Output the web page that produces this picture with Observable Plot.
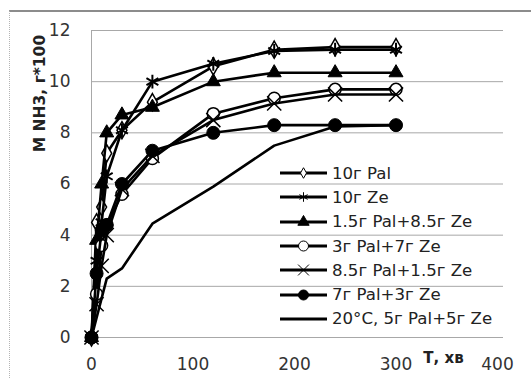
<!DOCTYPE html>
<html>
<head>
<meta charset="utf-8">
<script src="https://cdn.jsdelivr.net/npm/d3@7"></script>
<script src="https://cdn.jsdelivr.net/npm/@observablehq/plot@0.6"></script>
<style>
  body { margin: 0; background: #fff; }
  #wrap { position: relative; width: 531px; height: 378px; overflow: hidden; background: #fff; font-family: "DejaVu Sans", sans-serif; }
  #frame { position: absolute; left: 9px; top: 10px; width: 700px; height: 500px; border-top: 2px solid #8c8c8c; border-left: 1px dotted #b4b4b4; }
  #chart { position: absolute; left: 0; top: 0; }
  #legend { position: absolute; left: 278px; top: 161px; }
  .row { display: flex; align-items: center; height: 24.3px; }
  .row span { margin-left: 4px; font-size: 16.6px; color: #222; white-space: nowrap; }
</style>
</head>
<body>
<div id="wrap">
  <div id="frame"></div>
  <div id="chart"></div>
  <div id="legend"></div>
</div>
<script>
// ---- data ----
const seriesNames = ["10г Pal", "10г Ze", "1.5г Pal+8.5г Ze", "3г Pal+7г Ze", "8.5г Pal+1.5г Ze", "7г Pal+3г Ze", "20°C, 5г Pal+5г Ze"];
const times = [0, 5, 10, 15, 30, 60, 120, 180, 240, 300];
const pal10     = [0, 4.5, 5.1, 7.2, 8.1, 9.2, 10.6, 11.25, 11.35, 11.35];
const ze10      = [0, 3.0, 4.5, 6.3, 8.1, 10.0, 10.7, 11.2, 11.25, 11.25];
const pal15ze85 = [0, 3.8, 6.0, 8.0, 8.7, 9.0, 10.0, 10.35, 10.35, 10.35];
const pal3ze7   = [0, 1.7, 3.6, 4.4, 5.6, 7.0, 8.75, 9.35, 9.7, 9.7];
const pal85ze15 = [0, 1.3, 2.8, 4.0, 5.8, 7.1, 8.5, 9.15, 9.5, 9.5];
const pal7ze3   = [0, 2.5, 4.2, 4.4, 6.0, 7.3, 8.0, 8.3, 8.3, 8.3];
const times20   = [0, 15, 30, 60, 120, 180, 240, 300];
const room20    = [0, 2.3, 2.7, 4.45, 5.9, 7.5, 8.25, 8.3];
const xTicks = [0, 100, 200, 300, 400];
const yTicks = [0, 2, 4, 6, 8, 10, 12];
const xLabel = "Т, хв";
const yLabel = "M NH3, г*100";

// ---- styles per series ----
const styles = [
  {symbol: "diamond",  fill: "white", stroke: "black", r: 5.2, sw: 1.5, lr: 3.2},
  {symbol: "asterisk", fill: "none",  stroke: "black", r: 6.5, sw: 2,   lr: 4.5},
  {symbol: "triangle", fill: "black", stroke: "black", r: 5.2, sw: 1,   lr: 4.2},
  {symbol: "circle",   fill: "white", stroke: "black", r: 6,   sw: 1.5, lr: 5},
  {symbol: "times",    fill: "none",  stroke: "black", r: 6.5, sw: 1.5, lr: 5},
  {symbol: "circle",   fill: "black", stroke: "black", r: 6.5, sw: 1,   lr: 5},
  null
];
const seriesValues = [pal10, ze10, pal15ze85, pal3ze7, pal85ze15, pal7ze3, room20];
const seriesTimes  = [times, times, times, times, times, times, times20];

const tables = seriesNames.map((name, i) =>
  seriesTimes[i].map((t, j) => ({series: name, t, v: seriesValues[i][j]})));

const marks = [
  Plot.ruleY(yTicks, {y: d => d, stroke: "#a8a8a8", strokeWidth: 1, insetRight: -6}),
  Plot.ruleX([0], {x: d => d, y1: 0, y2: 12, stroke: "#a8a8a8", strokeWidth: 1})
];
tables.forEach((tab, i) => {
  marks.push(Plot.line(tab, {x: "t", y: "v", stroke: "black", strokeWidth: 2.6}));
  const s = styles[i];
  if (s) marks.push(Plot.dot(tab, {x: "t", y: "v", symbol: () => s.symbol, r: s.r, fill: s.fill, stroke: s.stroke, strokeWidth: s.sw}));
});
marks.push(
  Plot.text([yLabel], {text: d => d, frameAnchor: "top-left", rotate: -90, dx: -58, dy: 63, fontWeight: "bold", fontSize: 15.5, textAnchor: "middle", fill: "#222"}),
  Plot.text([xLabel], {text: d => d, frameAnchor: "bottom-right", dx: -54, dy: 25, fontWeight: "bold", fontSize: 15, textAnchor: "middle", fill: "#222", letterSpacing: "0.5px"})
);

const chart = Plot.plot({
  width: 531, height: 378,
  marginLeft: 91, marginRight: 34, marginTop: 30, marginBottom: 41,
  style: {fontFamily: "DejaVu Sans", fontSize: "17px", background: "transparent", color: "#333", overflow: "visible"},
  x: {domain: [0, 400], ticks: xTicks, tickSize: 0, tickPadding: 20, label: null},
  y: {domain: [0, 12], ticks: yTicks, tickSize: 0, tickPadding: 21, label: null},
  symbol: {type: "identity"},
  marks
});
document.getElementById("chart").appendChild(chart);

// ---- legend ----
const legend = d3.select("#legend");
seriesNames.forEach((name, i) => {
  const row = legend.append("div").attr("class", "row");
  const svg = row.append("svg").attr("width", 50).attr("height", 24).style("overflow", "visible");
  svg.append("line").attr("x1", 2).attr("x2", 49).attr("y1", 12).attr("y2", 12).attr("stroke", "black").attr("stroke-width", 3);
  const s = styles[i];
  if (s) {
    const typeMap = {diamond: d3.symbolDiamond, asterisk: d3.symbolAsterisk, triangle: d3.symbolTriangle, circle: d3.symbolCircle, times: d3.symbolTimes};
    svg.append("path")
      .attr("transform", "translate(25.5,12)")
      .attr("d", d3.symbol(typeMap[s.symbol], Math.PI * s.lr * s.lr)())
      .attr("fill", s.fill).attr("stroke", s.stroke).attr("stroke-width", 1);
  }
  row.append("span").text(name);
});
</script>
</body>
</html>
